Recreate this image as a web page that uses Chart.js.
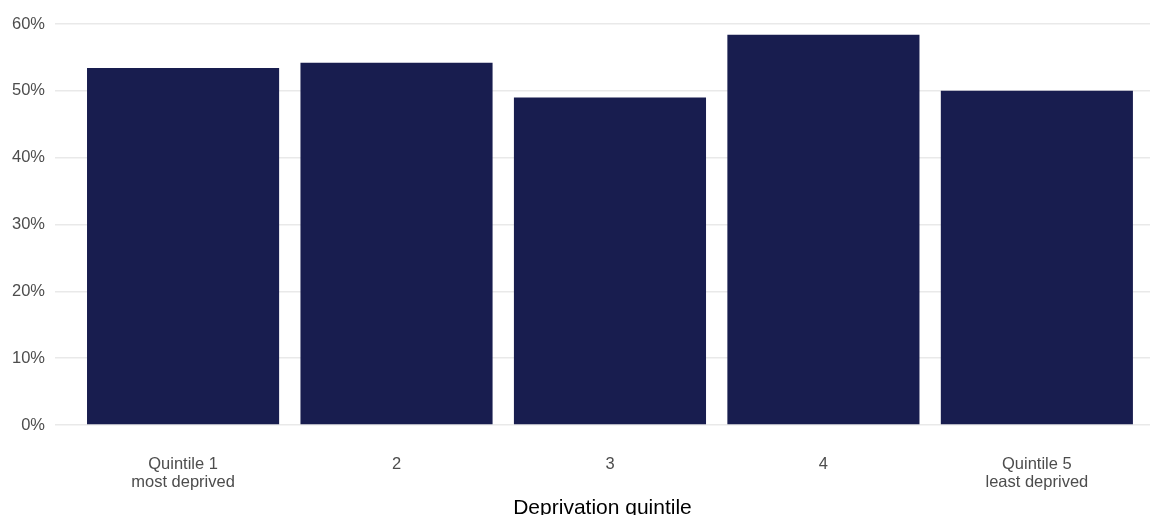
<!DOCTYPE html>
<html>
<head>
<meta charset="utf-8">
<script src="https://cdn.jsdelivr.net/npm/chart.js@4.4.1/dist/chart.umd.min.js"></script>
<style>
  html, body { margin: 0; padding: 0; background: #ffffff; overflow: hidden; }
  #wrap { position: relative; width: 1150px; height: 515px; }
</style>
</head>
<body>
<div id="wrap"><canvas id="c"></canvas></div>
<script>
const categories = [["Quintile 1", "most deprived"], "2", "3", "4", ["Quintile 5", "least deprived"]];
const positions = [1, 2, 3, 4, 5];
const shareValues = [53.4, 54.2, 49.0, 58.4, 50.0];
const yTicks = [0, 10, 20, 30, 40, 50, 60];
const xTitle = "Deprivation quintile";

const FONT = "'Liberation Sans', Arial, sans-serif";

new Chart(document.getElementById('c'), {
  type: 'bar',
  data: {
    datasets: [{
      data: positions.map((p, i) => ({ x: p, y: shareValues[i] })),
      backgroundColor: '#181d4f',
      borderWidth: 0,
      categoryPercentage: 1.0,
      barPercentage: 0.9
    }]
  },
  options: {
    responsive: true,
    maintainAspectRatio: false,
    animation: false,
    layout: { padding: { top: 24, right: 0, bottom: 0, left: 0 } },
    plugins: { legend: { display: false }, tooltip: { enabled: false } },
    scales: {
      x: {
        type: 'linear',
        offset: false,
        min: 0.4,
        max: 5.53,
        afterBuildTicks: axis => { axis.ticks = positions.map(v => ({ value: v })); },
        afterFit: axis => { axis.height = 90; },
        grid: { display: false, drawTicks: false, offset: false },
        border: { display: false },
        ticks: {
          autoSkip: false,
          maxRotation: 0,
          padding: 30,
          color: '#4d4d4d',
          font: { family: FONT, size: 16.5, lineHeight: 1.1 },
          callback: v => { const i = positions.indexOf(v); return i >= 0 ? categories[i] : ''; }
        },
        title: {
          display: true,
          text: xTitle,
          color: '#000000',
          font: { family: FONT, size: 21 },
          padding: { top: 0, bottom: -6 }
        }
      },
      y: {
        min: 0,
        max: 60,
        afterBuildTicks: axis => { axis.ticks = yTicks.map(v => ({ value: v })); },
        afterFit: axis => { axis.width = 55; },
        grid: { color: '#e9e9e9', lineWidth: 1.5, drawTicks: false },
        border: { display: false },
        ticks: {
          padding: 10,
          color: '#4d4d4d',
          font: { family: FONT, size: 16.5 },
          callback: v => v + '%'
        }
      }
    }
  }
});
</script>
</body>
</html>
